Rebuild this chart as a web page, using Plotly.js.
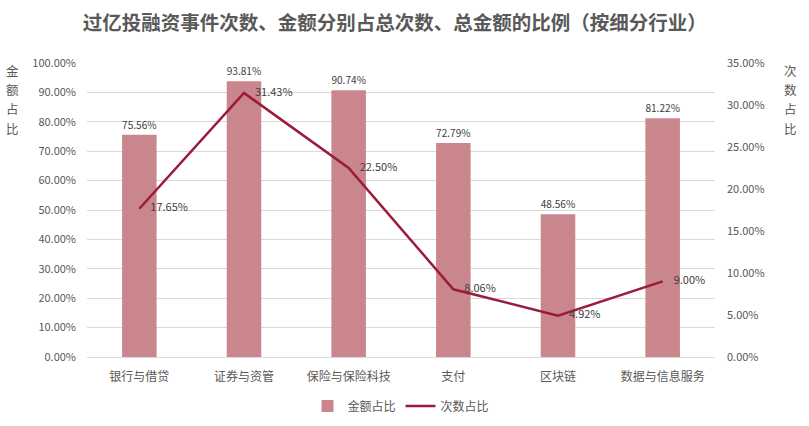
<!DOCTYPE html>
<html><head><meta charset="utf-8">
<script src="https://cdn.plot.ly/plotly-3.0.1.min.js"></script>
<style>body{margin:0;background:#fff}#c{width:809px;height:426px}</style>
</head><body><div id="c"></div>
<script>
var categories = ["银行与借贷","证券与资管","保险与保险科技","支付","区块链","数据与信息服务"];
var amountShare = [75.56, 93.81, 90.74, 72.79, 48.56, 81.22];
var countShare = [17.65, 31.43, 22.50, 8.06, 4.92, 9.00];
var leftTicks = [0,10,20,30,40,50,60,70,80,90,100];
var rightTicks = [0,5,10,15,20,25,30,35];
var leftTitle = "金额占比";
var rightTitle = "次数占比";
var fmt = function(v){return v.toFixed(2)+"%";};
var font = "Noto Sans CJK SC, sans-serif";
var traces = [
 {type:"bar", x:categories, y:amountShare, name:"金额占比", marker:{color:"#c9868c"},
  text:amountShare.map(fmt), textposition:"outside", cliponaxis:false,
  textfont:{size:11,color:"#404040"}, hoverinfo:"none"},
 {type:"scatter", mode:"lines+text", x:categories, y:countShare, yaxis:"y2", name:"次数占比",
  line:{color:"#9b1b3a", width:2.5}, text:countShare.map(function(v){return "\u2002\u2002"+fmt(v);}), textposition:"middle right",
  textfont:{size:11,color:"#404040"}, cliponaxis:false, hoverinfo:"none"}
];
var anns = [];
function vtitle(str, xp){
  for (var i=0;i<str.length;i++){
    anns.push({text:str[i], xref:"paper", yref:"paper", x:xp, y:0.976-i*0.066, xanchor:"center", yanchor:"middle",
      showarrow:false, borderpad:0, font:{size:12.5,color:"#595959"}});
  }
}
vtitle(leftTitle, -0.119);
vtitle(rightTitle, 1.121);
var layout = {
 width:809, height:426, margin:{l:87,r:94,t:63,b:69},
 paper_bgcolor:"#fff", plot_bgcolor:"#fff",
 font:{family:font, color:"#595959", size:11},
 title:{text:"<b>过亿投融资事件次数、金额分别占总次数、总金额的比例（按细分行业）</b>", x:0.488, xanchor:"center", y:0.945, yanchor:"middle", font:{size:19.5,color:"#595959",family:font}},
 bargap:0.67,
 showlegend:true,
 legend:{orientation:"h", x:0.5, xanchor:"center", yref:"container", y:0.047, yanchor:"middle", font:{size:12,color:"#595959"}, traceorder:"normal"},
 xaxis:{type:"category", showline:false, ticks:"", tickfont:{size:12,color:"#595959"}, zeroline:false, ticklabelstandoff:11},
 yaxis:{range:[0,100], tickvals:leftTicks, ticktext:leftTicks.map(function(v){return v.toFixed(2)+"%";}),
   showgrid:true, gridcolor:"#d9d9d9", zeroline:true, zerolinecolor:"#d9d9d9", ticks:"", ticklen:0,
   tickfont:{size:11,color:"#595959"}, automargin:false, ticklabelstandoff:10},
 yaxis2:{range:[0,35], overlaying:"y", side:"right", tickvals:rightTicks, ticktext:rightTicks.map(function(v){return v.toFixed(2)+"%";}),
   showgrid:false, zeroline:false, tickfont:{size:11,color:"#595959"}, automargin:false, ticklabelstandoff:11},
 annotations:anns
};
Plotly.newPlot("c", traces, layout, {displayModeBar:false, staticPlot:true});
</script></body></html>
